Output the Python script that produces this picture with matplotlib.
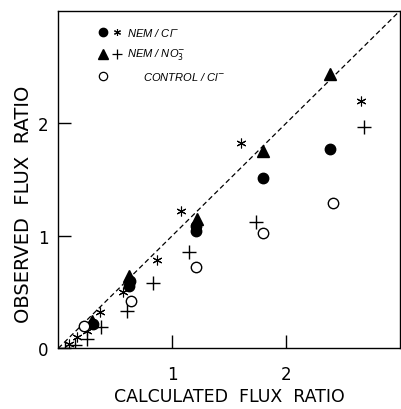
import matplotlib
matplotlib.use('Agg')
import matplotlib.pyplot as plt

# NEM / Cl- , first group (filled circles)
nem_cl_x = [2.385, 1.80, 1.209, 1.209, 0.623, 0.630, 0.307]
nem_cl_y = [1.771, 1.513, 1.039, 1.090, 0.557, 0.600, 0.216]

# NEM / Cl- , second group (asterisks)
nem_cl2_x = [2.654, 1.601, 1.074, 0.869, 0.571, 0.366, 0.249, 0.160, 0.097]
nem_cl2_y = [2.200, 1.824, 1.217, 0.785, 0.498, 0.320, 0.156, 0.098, 0.038]

# NEM / NO3- , first group (filled triangles)
nem_no3_x = [2.385, 1.80, 1.215, 0.623, 0.300]
nem_no3_y = [2.440, 1.756, 1.149, 0.646, 0.246]

# NEM / NO3- , second group (crosses)
nem_no32_x = [2.687, 1.735, 1.150, 0.834, 0.600, 0.372, 0.249, 0.146, 0.060]
nem_no32_y = [1.963, 1.119, 0.853, 0.577, 0.334, 0.187, 0.083, 0.030, 0.005]

# control / Cl- (open circles)
ctrl_x = [2.414, 1.794, 1.209, 0.638, 0.225]
ctrl_y = [1.291, 1.022, 0.725, 0.423, 0.195]

AX_MAX = 3.0
STAR = (6, 2, 0)

fig = plt.figure(figsize=(4.01, 4.10), dpi=100)
ax = fig.add_axes([58.3/401, 1 - 349.3/410, (400 - 58.3)/401, (349.3 - 11.7)/410])

# line of identity
ax.plot([0, AX_MAX], [0, AX_MAX], color='black', lw=0.9, dashes=(4, 2.5))

ax.plot(nem_cl_x, nem_cl_y, 'o', color='black', ms=7.5, zorder=3)
ax.plot(nem_no3_x, nem_no3_y, '^', color='black', ms=8, zorder=3)
ax.plot(nem_cl2_x, nem_cl2_y, marker=STAR, ls='none', color='black', ms=7, mew=0.8, zorder=3)
ax.plot(nem_no32_x, nem_no32_y, '+', color='black', ms=10, mew=1.0, zorder=3)
ax.plot(ctrl_x, ctrl_y, 'o', mfc='white', mec='black', ms=7.5, mew=1.0, zorder=3)

ax.set_xlim(0, AX_MAX)
ax.set_ylim(0, AX_MAX)
ax.set_xticks([1, 2])
ax.set_yticks([0, 1, 2])
ax.set_xticklabels(['1', '2'])
ax.set_yticklabels(['0', '1', '2'])
ax.tick_params(direction='in', length=9.5, width=1.0, labelsize=12)
ax.tick_params(axis='x', pad=12)
ax.tick_params(axis='y', pad=7)
for s in ax.spines.values():
    s.set_linewidth(1.0)

ax.set_xlabel('CALCULATED  FLUX  RATIO', fontsize=12.5, labelpad=3)
ax.set_ylabel('OBSERVED  FLUX  RATIO', fontsize=14)
ax.yaxis.set_label_coords(-0.074, 0.43)

# hand-made key in the upper left corner
tf = ax.transAxes
def key_pos(px, py):
    return ((px - 58.3) / (400 - 58.3), (349.3 - py) / (349.3 - 11.7))

ax.plot(*key_pos(103, 33), 'o', color='black', ms=6, transform=tf)
ax.plot(*key_pos(117, 33), marker=STAR, color='black', ms=5, mew=0.8, transform=tf)
ax.plot(*key_pos(103, 55), '^', color='black', ms=6.5, transform=tf)
ax.plot(*key_pos(117, 55), '+', color='black', ms=7, mew=0.9, transform=tf)
ax.plot(*key_pos(103, 77), 'o', mfc='white', mec='black', ms=6, mew=0.9, transform=tf)

kw = dict(transform=tf, fontsize=8, family='Liberation Sans', style='italic',
          va='center', ha='left')
ax.text(*key_pos(127, 33), r'NEM / Cl$^{-}$', **kw)
ax.text(*key_pos(127, 55), r'NEM / NO$_3^{-}$', **kw)
ax.text(*key_pos(143, 77), r'CONTROL / Cl$^{-}$', **kw)

fig.savefig('out.png', dpi=100)
